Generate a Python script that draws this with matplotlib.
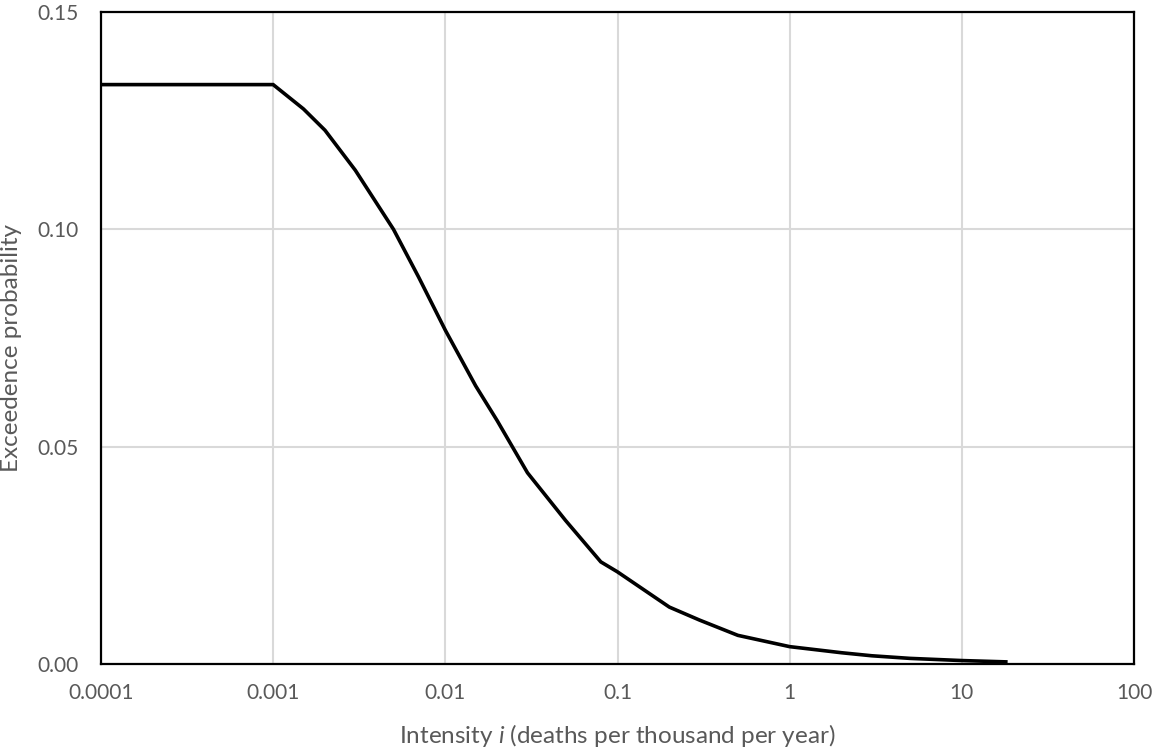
import matplotlib
matplotlib.use('Agg')
import matplotlib.pyplot as plt
from matplotlib.ticker import FixedLocator, FixedFormatter

# ── Data ─────────────────────────────────────────────────────────
intensity = [0.0001, 0.001, 0.0015, 0.002, 0.003, 0.005, 0.007, 0.01, 0.015,
             0.02, 0.03, 0.05, 0.08, 0.1, 0.2, 0.3, 0.5, 1, 2, 3, 5, 10, 18]
exceed_prob = [0.1333, 0.1333, 0.1277, 0.1228, 0.1136, 0.100, 0.089, 0.0768, 0.064,
               0.056, 0.044, 0.033, 0.0235, 0.0212, 0.0131, 0.0101, 0.0066, 0.0040,
               0.0026, 0.0019, 0.0013, 0.0008, 0.0005]

x_ticks = [0.0001, 0.001, 0.01, 0.1, 1, 10, 100]
x_tick_labels = ['0.0001', '0.001', '0.01', '0.1', '1', '10', '100']
y_ticks = [0.0, 0.05, 0.10, 0.15]
y_tick_labels = ['0.00', '0.05', '0.10', '0.15']

# ── Style ────────────────────────────────────────────────────────
plt.rcParams['font.family'] = ['Lato', 'DejaVu Sans']
plt.rcParams['mathtext.fontset'] = 'custom'
plt.rcParams['mathtext.it'] = 'Lato:italic'
plt.rcParams['mathtext.rm'] = 'Lato'
text_grey = '#595959'

# ── Plot ─────────────────────────────────────────────────────────
fig = plt.figure(figsize=(11.54, 7.51), dpi=100)
ax = fig.add_axes([0.0875, 0.1158, 0.8952, 0.8682])

ax.plot(intensity, exceed_prob, color='black', linewidth=2.6,
        solid_joinstyle='miter', zorder=3)

ax.set_xscale('log')
ax.set_xlim(0.0001, 100)
ax.set_ylim(0, 0.15)

ax.xaxis.set_major_locator(FixedLocator(x_ticks))
ax.xaxis.set_major_formatter(FixedFormatter(x_tick_labels))
ax.xaxis.set_minor_locator(FixedLocator([]))
ax.yaxis.set_major_locator(FixedLocator(y_ticks))
ax.yaxis.set_major_formatter(FixedFormatter(y_tick_labels))

ax.grid(True, color='#d9d9d9', linewidth=1.5, zorder=0)
ax.set_axisbelow(True)
for s in ax.spines.values():
    s.set_color('black')
    s.set_linewidth(1.6)

ax.tick_params(axis='both', length=0, labelsize=15, colors=text_grey)
ax.tick_params(axis='x', pad=14)
ax.tick_params(axis='y', pad=16)

# ── Labels ───────────────────────────────────────────────────────
ax.set_xlabel(r'Intensity $i$ (deaths per thousand per year)',
              fontsize=17.5, color=text_grey, va='center')
ax.xaxis.set_label_coords(0.5, -0.109)
ax.set_ylabel('Exceedence probability', fontsize=17.5, color=text_grey,
              va='center')
ax.yaxis.set_label_coords(-0.0862, 0.485)

# ── Export ───────────────────────────────────────────────────────
fig.savefig('out.png', dpi=100)
